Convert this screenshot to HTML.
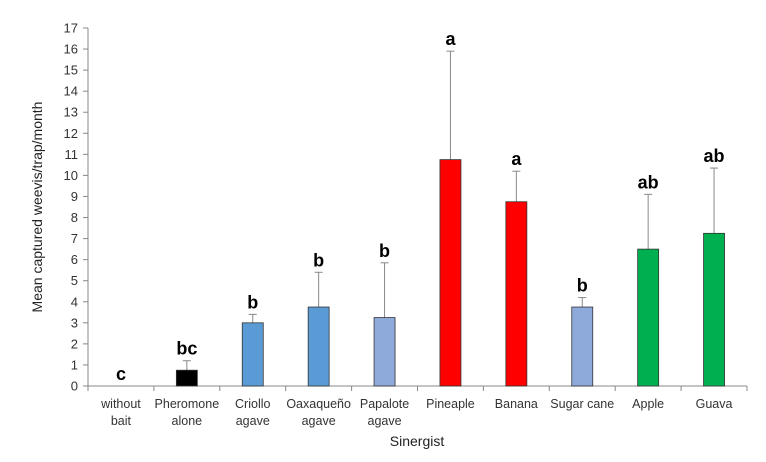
<!DOCTYPE html>
<html><head><meta charset="utf-8"><style>
body{margin:0;background:#fff;width:766px;height:462px;overflow:hidden}
svg{display:block;font-family:"Liberation Sans",Arial,sans-serif}
</style></head><body>
<svg id="chart" width="766" height="462"></svg>
<script>
const categories=[["without","bait"],["Pheromone","alone"],["Criollo","agave"],["Oaxaqueño","agave"],["Papalote","agave"],["Pineaple"],["Banana"],["Sugar cane"],["Apple"],["Guava"]];
const means=[0,0.75,3.0,3.75,3.25,10.75,8.75,3.75,6.5,7.25];
const errTops=[0,1.2,3.4,5.4,5.85,15.9,10.2,4.2,9.1,10.35];
const letters=["c","bc","b","b","b","a","a","b","ab","ab"];
const colors=["#000000","#000000","#5b9bd5","#5b9bd5","#8eaadb","#ff0000","#ff0000","#8eaadb","#00b050","#00b050"];
const yTicks=[0,1,2,3,4,5,6,7,8,9,10,11,12,13,14,15,16,17];
const NS="http://www.w3.org/2000/svg";
const svg=document.getElementById('chart');
const x0=88,x1=747,y0=386,y1=28,yMax=17;
const bw=(x1-x0)/categories.length;
function yS(v){return y0-(v/yMax)*(y0-y1);}
function xC(i){return x0+bw*(i+0.5);}
function mk(t,a,n){const e=document.createElementNS(NS,t);for(const k in a)e.setAttribute(k,a[k]);


svg.appendChild(e);return e;}
mk('line',{x1:x0,y1:y1,x2:x0,y2:y0,stroke:'#888','stroke-width':1},'y-axis');
mk('line',{x1:x0,y1:y0,x2:x1,y2:y0,stroke:'#888','stroke-width':1},'x-axis');
yTicks.forEach(v=>{const y=yS(v);
mk('line',{x1:x0-5,y1:y,x2:x0,y2:y,stroke:'#888'},'y-tick');
const t=mk('text',{x:x0-10,y:y+4.5,'text-anchor':'end','font-size':13,fill:'#333'},'y-tick-label');t.textContent=v;});
for(let i=0;i<=categories.length;i++){const x=x0+bw*i;mk('line',{x1:x,y1:y0,x2:x,y2:y0+5,stroke:'#888'},'x-tick');}
categories.forEach((c,i)=>{const cx=xC(i);
c.forEach((s,j)=>{const t=mk('text',{x:cx,y:408+j*17,'text-anchor':'middle','font-size':12.5,fill:'#333'},'x-tick-label');t.textContent=s;});
const v=means[i];
if(v>0){mk('line',{x1:cx,y1:yS(errTops[i]),x2:cx,y2:yS(v),stroke:'#888'},'error-bar');
mk('line',{x1:cx-4,y1:yS(errTops[i]),x2:cx+4,y2:yS(errTops[i]),stroke:'#888'},'error-cap');
mk('rect',{x:cx-10.5,y:yS(v),width:21,height:y0-yS(v),fill:colors[i],stroke:'#333','stroke-width':0.8},'bar-'+i);}
const t=mk('text',{x:cx,y:yS(Math.max(errTops[i],v))-6,'text-anchor':'middle','font-size':18,'font-weight':'bold',fill:'#000'},'significance-letter');t.textContent=letters[i];});
const yt=mk('text',{x:0,y:0,transform:'translate(42,207) rotate(-90)','text-anchor':'middle','font-size':14,fill:'#222'},'y-axis-title');yt.textContent='Mean captured weevis/trap/month';
const xt=mk('text',{x:417,y:446,'text-anchor':'middle','font-size':14,fill:'#222'},'x-axis-title');xt.textContent='Sinergist';
</script></body></html>
